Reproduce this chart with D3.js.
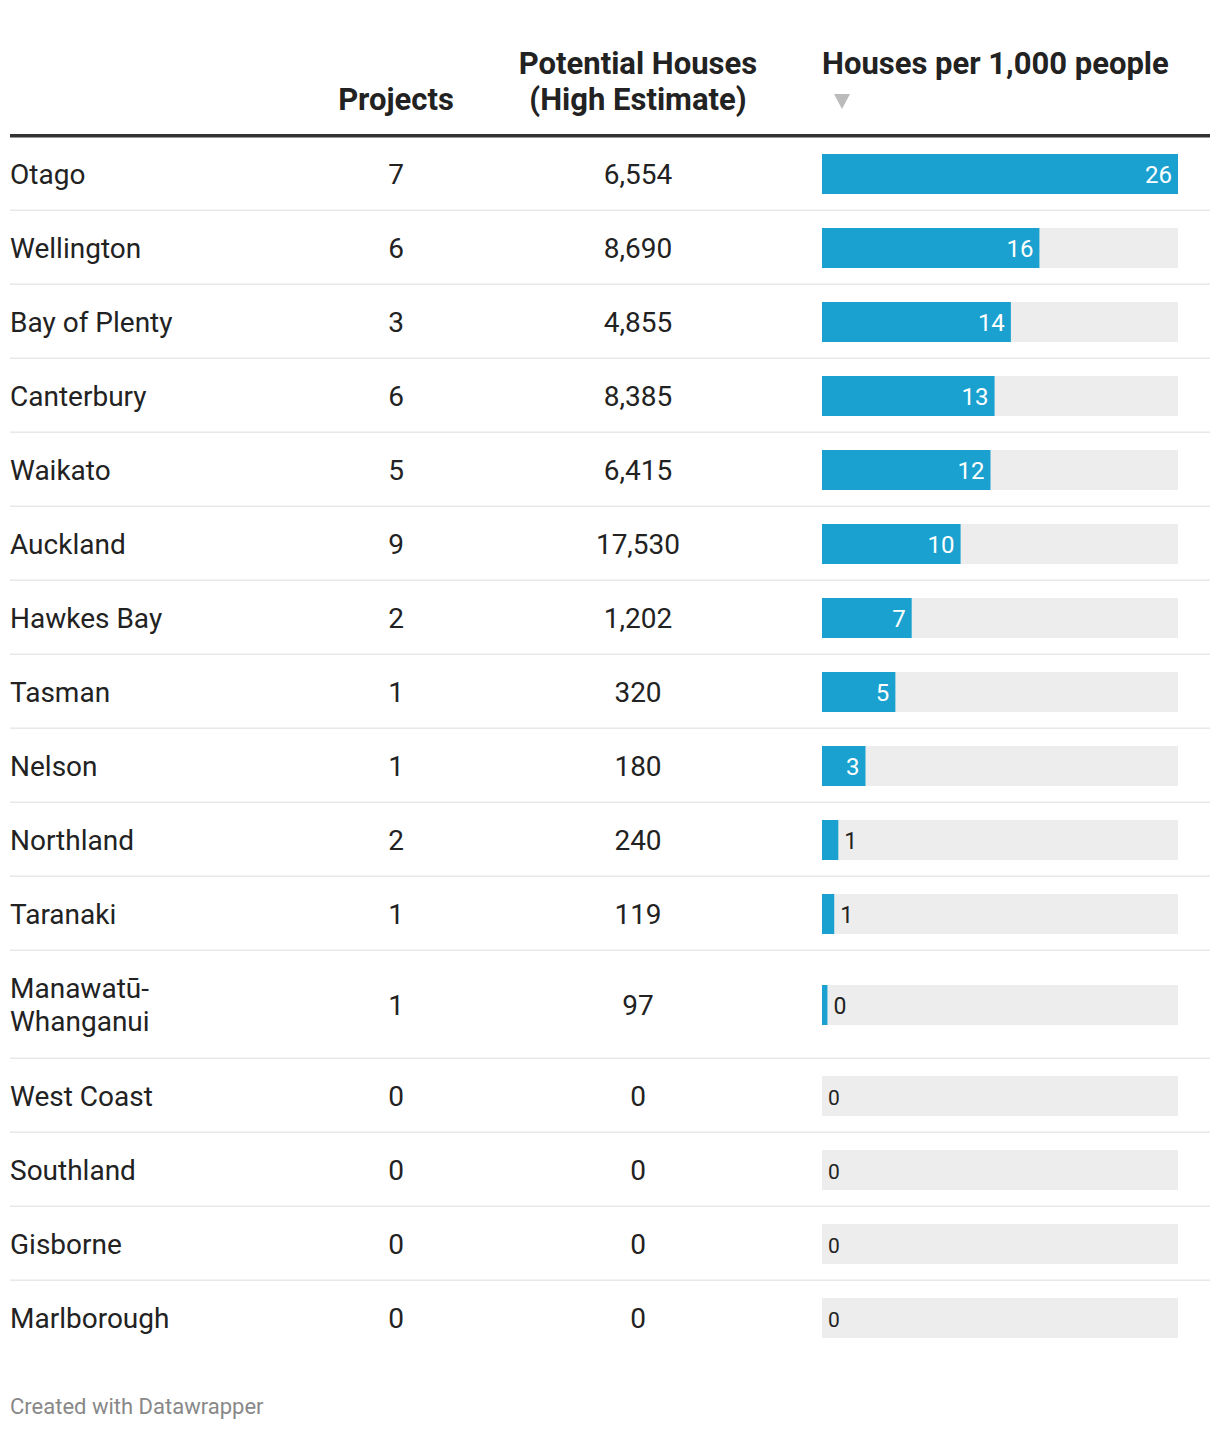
<!DOCTYPE html>
<html><head><meta charset="utf-8">
<script src="https://cdn.jsdelivr.net/npm/d3@7"></script>
<style>body{margin:0;background:#fff;font-family:Roboto,sans-serif;}</style>
</head><body><svg id="c" width="1220" height="1430"></svg>
<script>
const regions = ["Otago","Wellington","Bay of Plenty","Canterbury","Waikato","Auckland","Hawkes Bay","Tasman","Nelson","Northland","Taranaki","Manawatū-Whanganui","West Coast","Southland","Gisborne","Marlborough"];
const projects = [7,6,3,6,5,9,2,1,1,2,1,1,0,0,0,0];
const houses = [6554,8690,4855,8385,6415,17530,1202,320,180,240,119,97,0,0,0,0];
const perThousand = [26.2,16.0,13.9,12.7,12.4,10.2,6.6,5.4,3.2,1.2,0.9,0.4,0,0,0,0];
const headers = [["Projects"],["Potential Houses","(High Estimate)"],["Houses per 1,000 people"]];

const svg = d3.select("#c");
const fmt = d3.format(",");
const left = 10, right = 1210;
const colProj = 396, colHouses = 638, barX = 822, barW = 356, barH = 40;
const x = d3.scaleLinear().domain([0, d3.max(perThousand)]).range([0, barW]);

function addText(sel, attrs){ Object.entries(attrs).forEach(([k,v])=>sel.attr(k,v)); return sel; }
const hf = {"font-weight":700,"font-size":"31px",fill:"#222"};
addText(svg.append("text").attr("x",colProj).attr("y",110).attr("text-anchor","middle").text(headers[0][0]),hf);
headers[1].forEach((t,i)=>addText(svg.append("text").attr("x",colHouses).attr("y",74+36*i).attr("text-anchor","middle").text(t),hf));
addText(svg.append("text").attr("x",barX).attr("y",74).text(headers[2][0]),hf);
svg.append("path").attr("d","M834,94 L850,94 L842,109 Z").attr("fill","#bbb");
svg.append("rect").attr("x",left).attr("y",134).attr("width",right-left).attr("height",3.5).attr("fill","#333");

const wrapped = regions.map(r => r.length > 15 && r.includes("-"));
const heights = wrapped.map(w => w ? 108 : 74);
const tops = [];
let acc = 137;
heights.forEach(h => { tops.push(acc); acc += h; });

const rows = svg.selectAll("g.row").data(regions.map((r,i)=>({r,i}))).join("g").attr("class","row")
  .attr("transform", d => `translate(0,${tops[d.i]})`);

rows.filter(d => d.i < regions.length-1).append("rect").attr("x",left).attr("y",d=>heights[d.i]-1.5)
  .attr("width",right-left).attr("height",1.5).attr("fill","#e8e8e8");

const bf = {"font-size":"28px",fill:"#222"};
const off = 10;
rows.each(function(d){
  const g = d3.select(this);
  const h = heights[d.i], cy = h/2;
  if (wrapped[d.i]) {
    const parts = d.r.split("-");
    const t = addText(g.append("text").attr("x",left).attr("y",cy-17+off),bf);
    t.append("tspan").attr("x",left).text(parts[0]+"-");
    t.append("tspan").attr("x",left).attr("dy",33).text(parts[1]);
  } else {
    addText(g.append("text").attr("x",left).attr("y",cy+off).text(d.r),bf);
  }
  addText(g.append("text").attr("x",colProj).attr("y",cy+off).attr("text-anchor","middle").text(projects[d.i]),bf);
  addText(g.append("text").attr("x",colHouses).attr("y",cy+off).attr("text-anchor","middle").text(fmt(houses[d.i])),bf);
  g.append("rect").attr("x",barX).attr("y",cy-barH/2).attr("width",barW).attr("height",barH).attr("fill","#ededed");
  const w = x(perThousand[d.i]);
  g.append("rect").attr("x",barX).attr("y",cy-barH/2).attr("width",w).attr("height",barH).attr("fill","#1aa1cf");
  const lab = Math.round(perThousand[d.i]);
  const inside = w > 36;
  g.append("text").attr("x", inside ? barX + w - 6 : barX + w + 6)
    .attr("y", cy+8.5).attr("text-anchor", inside ? "end" : "start")
    .attr("font-size", inside ? "24px" : (w>0 ? "23px" : "21px"))
    .attr("fill", inside ? "#fff" : "#222").text(lab);
});

svg.append("text").attr("x",left).attr("y",1414).attr("font-size","22px").attr("fill","#888").text("Created with Datawrapper");
</script></body></html>
